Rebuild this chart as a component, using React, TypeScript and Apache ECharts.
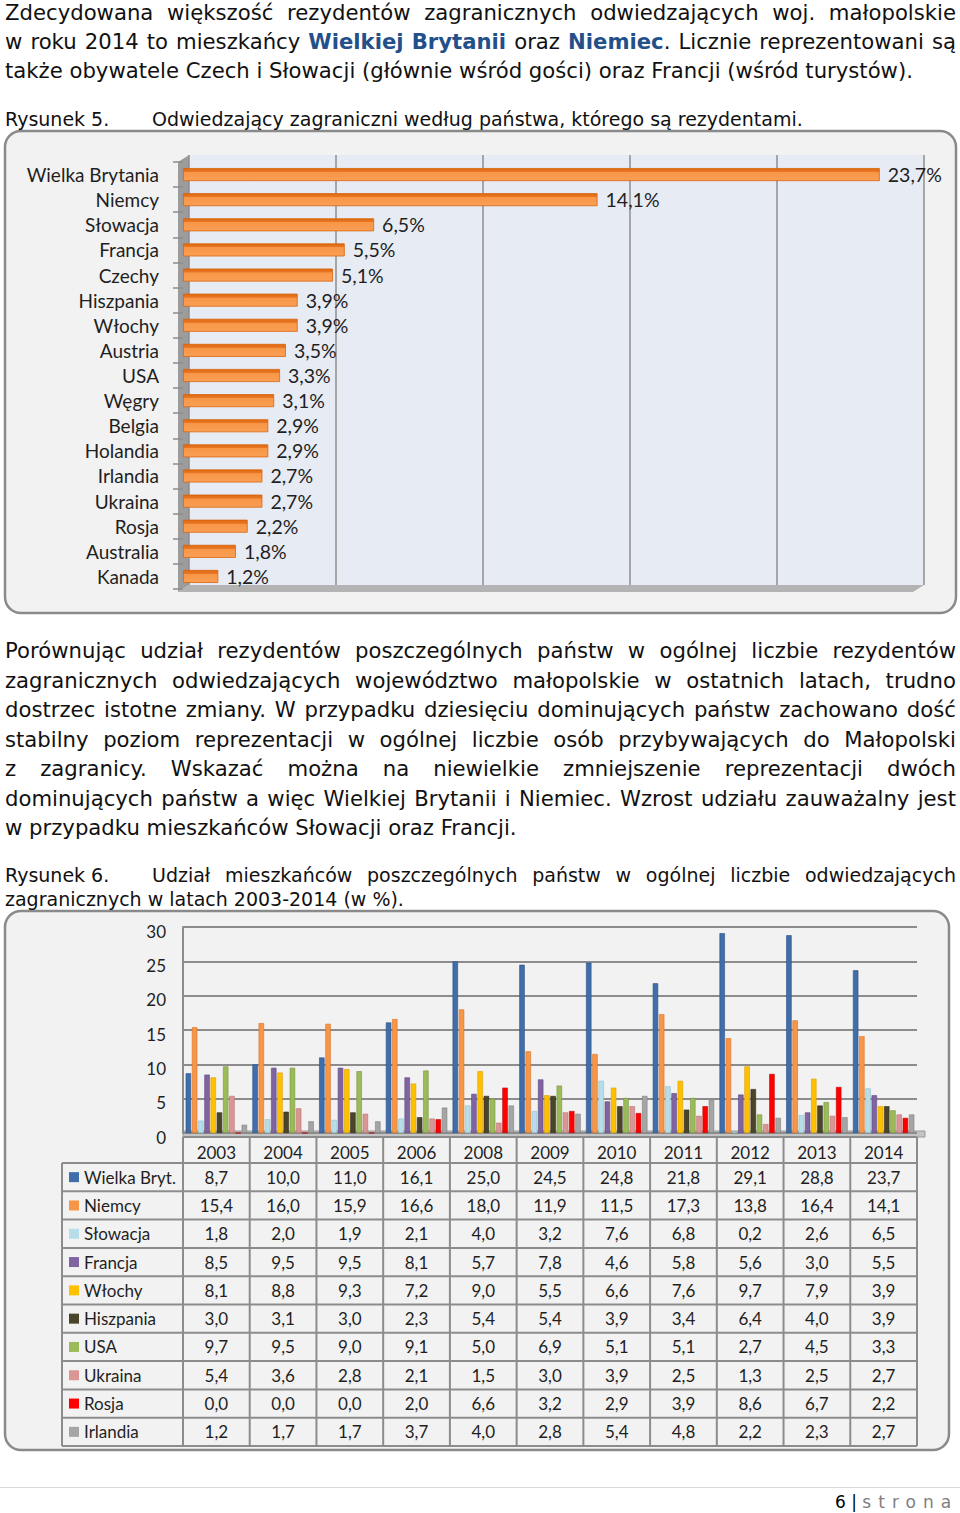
import React, { useEffect, useRef } from "react";
import * as echarts from "echarts";

// ---------- DATA ----------
const countries5 = ["Wielka Brytania", "Niemcy", "Słowacja", "Francja", "Czechy", "Hiszpania", "Włochy", "Austria", "USA", "Węgry", "Belgia", "Holandia", "Irlandia", "Ukraina", "Rosja", "Australia", "Kanada"];
const shares5 = [23.7, 14.1, 6.5, 5.5, 5.1, 3.9, 3.9, 3.5, 3.3, 3.1, 2.9, 2.9, 2.7, 2.7, 2.2, 1.8, 1.2];

const years = ["2003", "2004", "2005", "2006", "2008", "2009", "2010", "2011", "2012", "2013", "2014"];
const seriesNames = ["Wielka Bryt.", "Niemcy", "Słowacja", "Francja", "Włochy", "Hiszpania", "USA", "Ukraina", "Rosja", "Irlandia"];
const wielkaBryt = [8.7, 10.0, 11.0, 16.1, 25.0, 24.5, 24.8, 21.8, 29.1, 28.8, 23.7];
const niemcy = [15.4, 16.0, 15.9, 16.6, 18.0, 11.9, 11.5, 17.3, 13.8, 16.4, 14.1];
const slowacja = [1.8, 2.0, 1.9, 2.1, 4.0, 3.2, 7.6, 6.8, 0.2, 2.6, 6.5];
const francja = [8.5, 9.5, 9.5, 8.1, 5.7, 7.8, 4.6, 5.8, 5.6, 3.0, 5.5];
const wlochy = [8.1, 8.8, 9.3, 7.2, 9.0, 5.5, 6.6, 7.6, 9.7, 7.9, 3.9];
const hiszpania = [3.0, 3.1, 3.0, 2.3, 5.4, 5.4, 3.9, 3.4, 6.4, 4.0, 3.9];
const usa = [9.7, 9.5, 9.0, 9.1, 5.0, 6.9, 5.1, 5.1, 2.7, 4.5, 3.3];
const ukraina = [5.4, 3.6, 2.8, 2.1, 1.5, 3.0, 3.9, 2.5, 1.3, 2.5, 2.7];
const rosja = [0.0, 0.0, 0.0, 2.0, 6.6, 3.2, 2.9, 3.9, 8.6, 6.7, 2.2];
const irlandia = [1.2, 1.7, 1.7, 3.7, 4.0, 2.8, 5.4, 4.8, 2.2, 2.3, 2.7];
const seriesValues = [wielkaBryt, niemcy, slowacja, francja, wlochy, hiszpania, usa, ukraina, rosja, irlandia];

const yTicks2 = { min: 0, max: 30, interval: 5 };

// ---------- STYLES ----------
const colors2 = ["#3f6eaa", "#f79646", "#b7dee8", "#8064a2", "#ffc000", "#4a452a", "#9bbb59", "#d99694", "#ff0000", "#a5a5a5"];
const borders2 = ["#2c5085", "#d9742a", "#8fbfcc", "#5f487f", "#d9a000", "#2f2b18", "#789540", "#b87472", "#c00000", "#7f7f7f"];
const LATO = "Lato, 'Open Sans', sans-serif";
const TXT = "#1f1f1f";

const fmt = (v: number) => v.toFixed(1).replace(".", ",");

// ---------- TEXT ----------
const para1 = [
  { top: -2.5, text: "Zdecydowana większość rezydentów zagranicznych odwiedzających woj. małopolskie", justify: true },
  { top: 26.5, text: "w roku 2014 to mieszkańcy *Wielkiej* *Brytanii* oraz *Niemiec*. Licznie reprezentowani są", justify: true },
  { top: 55.5, text: "także obywatele Czech i Słowacji (głównie wśród gości) oraz Francji (wśród turystów).", justify: false },
];
const para2 = [
  { top: 635.5, text: "Porównując udział rezydentów poszczególnych państw w ogólnej liczbie rezydentów", justify: true },
  { top: 665.5, text: "zagranicznych odwiedzających województwo małopolskie w ostatnich latach, trudno", justify: true },
  { top: 694.5, text: "dostrzec istotne zmiany. W przypadku dziesięciu dominujących państw zachowano dość", justify: true },
  { top: 724.5, text: "stabilny poziom reprezentacji w ogólnej liczbie osób przybywających do Małopolski", justify: true },
  { top: 753.5, text: "z zagranicy. Wskazać można na niewielkie zmniejszenie reprezentacji dwóch", justify: true },
  { top: 783.5, text: "dominujących państw a więc Wielkiej Brytanii i Niemiec. Wzrost udziału zauważalny jest", justify: true },
  { top: 812.5, text: "w przypadku mieszkańców Słowacji oraz Francji.", justify: false },
];

const bodyText: React.CSSProperties = {
  position: "absolute",
  height: 29,
  lineHeight: "29px",
  fontFamily: "'DejaVu Sans', Verdana, sans-serif",
  fontSize: 21.2,
  color: "#111",
  whiteSpace: "nowrap",
};
const capText: React.CSSProperties = { ...bodyText, height: 24, lineHeight: "24px", fontSize: 19 };

function renderWord(w: string, i: number) {
  const m = w.match(/^\*(.+)\*(.*)$/);
  if (m) {
    return (
      <span key={i}>
        <b style={{ color: "#23508a" }}>{m[1]}</b>
        {m[2]}
      </span>
    );
  }
  return <span key={i}>{w}</span>;
}

function Line({ top, text, justify, left = 5, width = 951, base = bodyText }: { top: number; text: string; justify: boolean; left?: number; width?: number; base?: React.CSSProperties }) {
  if (justify) {
    const words = text.split(" ");
    return (
      <div style={{ ...base, top, left, width, display: "flex", justifyContent: "space-between" }}>
        {words.map((w, i) => renderWord(w, i))}
      </div>
    );
  }
  return <div style={{ ...base, top, left, width }}>{text}</div>;
}

export default function App() {
  const ref = useRef<HTMLDivElement>(null);

  useEffect(() => {
    if (!ref.current) return;
    const chart = echarts.init(ref.current, undefined, { renderer: "svg" });

    // table geometry (chart 2)
    const gLeft = 183;
    const gWidth = 734;
    const colW = gWidth / years.length;
    const tTop = 1163;
    const rowH = 28.3;
    const tBottom = tTop + rowH * seriesNames.length;
    const lineStyle = { stroke: "#8c8c8c", lineWidth: 2 };

    const g: any[] = [];
    // boxes
    g.push({ type: "rect", z: -20, shape: { x: 5, y: 131, width: 951, height: 482, r: 16 }, style: { fill: "#f2f2f2", stroke: "#8a8a8a", lineWidth: 2.5 } });
    g.push({ type: "rect", z: -20, shape: { x: 5, y: 911, width: 944, height: 539, r: 16 }, style: { fill: "#f2f2f2", stroke: "#8a8a8a", lineWidth: 2.5 } });
    // chart 1 3D walls
    g.push({ type: "rect", z: -10, shape: { x: 189, y: 155, width: 735, height: 430 }, style: { fill: "#e7ebf4" } });
    g.push({ type: "polygon", z: -9, shape: { points: [[178, 162], [189, 155], [189, 585], [178, 592]] }, style: { fill: "#9c9c9c" } });
    g.push({ type: "polygon", z: -9, shape: { points: [[178, 592], [189, 585], [924, 585], [913, 592]] }, style: { fill: "#b3b3b3" } });
    // chart 2 floor
    g.push({ type: "rect", z: -5, shape: { x: 183, y: 1131, width: 742, height: 6 }, style: { fill: "#c4c4c4", stroke: "#9a9a9a", lineWidth: 1 } });

    // table lines
    g.push({ type: "line", z: 5, shape: { x1: gLeft, y1: 1137, x2: gLeft + gWidth, y2: 1137 }, style: lineStyle });
    for (let r = 0; r <= seriesNames.length; r++) {
      const y = tTop + r * rowH;
      g.push({ type: "line", z: 5, shape: { x1: 62, y1: y, x2: gLeft + gWidth, y2: y }, style: lineStyle });
    }
    g.push({ type: "line", z: 5, shape: { x1: 62, y1: tTop, x2: 62, y2: tBottom }, style: lineStyle });
    for (let c = 0; c <= years.length; c++) {
      const x = gLeft + c * colW;
      g.push({ type: "line", z: 5, shape: { x1: x, y1: 1137, x2: x, y2: tBottom }, style: lineStyle });
    }
    // table row labels, squares, values
    seriesNames.forEach((name, r) => {
      const cy = tTop + (r + 0.5) * rowH;
      g.push({ type: "rect", z: 6, shape: { x: 69, y: cy - 5, width: 10, height: 10 }, style: { fill: colors2[r] } });
      g.push({ type: "text", z: 6, x: 84, y: cy, style: { text: name, fontFamily: LATO, fontSize: 17, fill: TXT, verticalAlign: "middle", align: "left" } });
      seriesValues[r].forEach((v, c) => {
        g.push({ type: "text", z: 6, x: gLeft + (c + 0.5) * colW, y: cy, style: { text: fmt(v), fontFamily: LATO, fontSize: 17, fill: TXT, align: "center", verticalAlign: "middle" } });
      });
    });

    const series2 = seriesNames.map((name, i) => ({
      type: "bar",
      name,
      xAxisIndex: 2,
      yAxisIndex: 2,
      data: seriesValues[i],
      barGap: "15%",
      barCategoryGap: "8%",
      itemStyle: { color: colors2[i], borderColor: borders2[i], borderWidth: 0.6 },
    }));

    chart.setOption({
      animation: false,
      graphic: { elements: g },
      grid: [
        { left: 189, top: 155, width: 735, height: 430 },
        { left: 183, top: 162, width: 735, height: 427 },
        { left: gLeft, top: 927, width: gWidth, height: 206 },
        { left: gLeft, top: 931, width: gWidth, height: 206 },
      ],
      xAxis: [
        { gridIndex: 0, type: "value", min: 0, max: 25, interval: 5, axisLabel: { show: false }, axisLine: { show: false }, axisTick: { show: false }, splitLine: { show: true, lineStyle: { color: "#8e8e8e", width: 1.5 } } },
        { gridIndex: 1, type: "value", min: 0, max: 25, show: false },
        { gridIndex: 2, type: "category", data: years, axisLine: { show: false }, axisTick: { show: false }, axisLabel: { margin: 11, fontFamily: LATO, fontSize: 17, color: TXT } },
        { gridIndex: 3, type: "category", data: years, show: false },
      ],
      yAxis: [
        { gridIndex: 0, type: "category", data: countries5, show: false },
        {
          gridIndex: 1, type: "category", data: countries5, inverse: true,
          axisLine: { show: false },
          axisTick: { show: true, length: 10, lineStyle: { color: "#8c8c8c", width: 1.5 } },
          axisLabel: { margin: 24, fontFamily: LATO, fontSize: 19, color: TXT },
        },
        {
          gridIndex: 2, type: "value", min: yTicks2.min, max: yTicks2.max, interval: yTicks2.interval,
          axisLine: { show: true, lineStyle: { color: "#8c8c8c", width: 2 } },
          axisTick: { show: false },
          splitLine: { show: true, lineStyle: { color: "#8c8c8c", width: 2 } },
          axisLabel: { show: false },
        },
        {
          gridIndex: 3, type: "value", min: yTicks2.min, max: yTicks2.max, interval: yTicks2.interval,
          axisLine: { show: false }, axisTick: { show: false }, splitLine: { show: false },
          axisLabel: { margin: 17, fontFamily: LATO, fontSize: 17, color: TXT },
        },
      ],
      series: [
        {
          type: "bar",
          xAxisIndex: 1,
          yAxisIndex: 1,
          data: shares5,
          barWidth: 13,
          itemStyle: {
            color: new echarts.graphic.LinearGradient(0, 0, 0, 1, [
              { offset: 0, color: "#e0690b" },
              { offset: 0.28, color: "#e8782a" },
              { offset: 0.3, color: "#f79646" },
              { offset: 1, color: "#fa9f55" },
            ]),
            borderColor: "#d8640e",
            borderWidth: 0.8,
          },
          label: {
            show: true,
            position: "right",
            distance: 8,
            formatter: (p: any) => fmt(p.value) + "%",
            fontFamily: LATO,
            fontSize: 19.5,
            color: TXT,
          },
        },
        ...series2,
      ],
    });
    return () => chart.dispose();
  }, []);

  return (
    <div style={{ position: "absolute", left: 0, top: 0, width: 960, height: 1513, background: "#fff", overflow: "hidden" }}>
      <div ref={ref} style={{ position: "absolute", left: 0, top: 0, width: 960, height: 1513 }} />
      {para1.map((l, i) => (
        <Line key={"a" + i} {...l} />
      ))}
      <div style={{ ...capText, top: 107, left: 5 }}>Rysunek 5.</div>
      <div style={{ ...capText, top: 107, left: 152 }}>Odwiedzający zagraniczni według państwa, którego są rezydentami.</div>
      {para2.map((l, i) => (
        <Line key={"b" + i} {...l} />
      ))}
      <div style={{ ...capText, top: 863, left: 5 }}>Rysunek 6.</div>
      <Line top={863} left={152} width={804} base={capText} text="Udział mieszkańców poszczególnych państw w ogólnej liczbie odwiedzających" justify={true} />
      <div style={{ ...capText, top: 887, left: 5 }}>zagranicznych w latach 2003-2014 (w %).</div>
      <div style={{ position: "absolute", left: 0, top: 1487, width: 960, height: 1, background: "#d9d9d9" }} />
      <div style={{ ...capText, top: 1490, left: 835, fontSize: 17 }}>
        <span style={{ color: "#000" }}>6 | </span>
        <span style={{ color: "#808080", letterSpacing: "7px" }}>strona</span>
      </div>
    </div>
  );
}
